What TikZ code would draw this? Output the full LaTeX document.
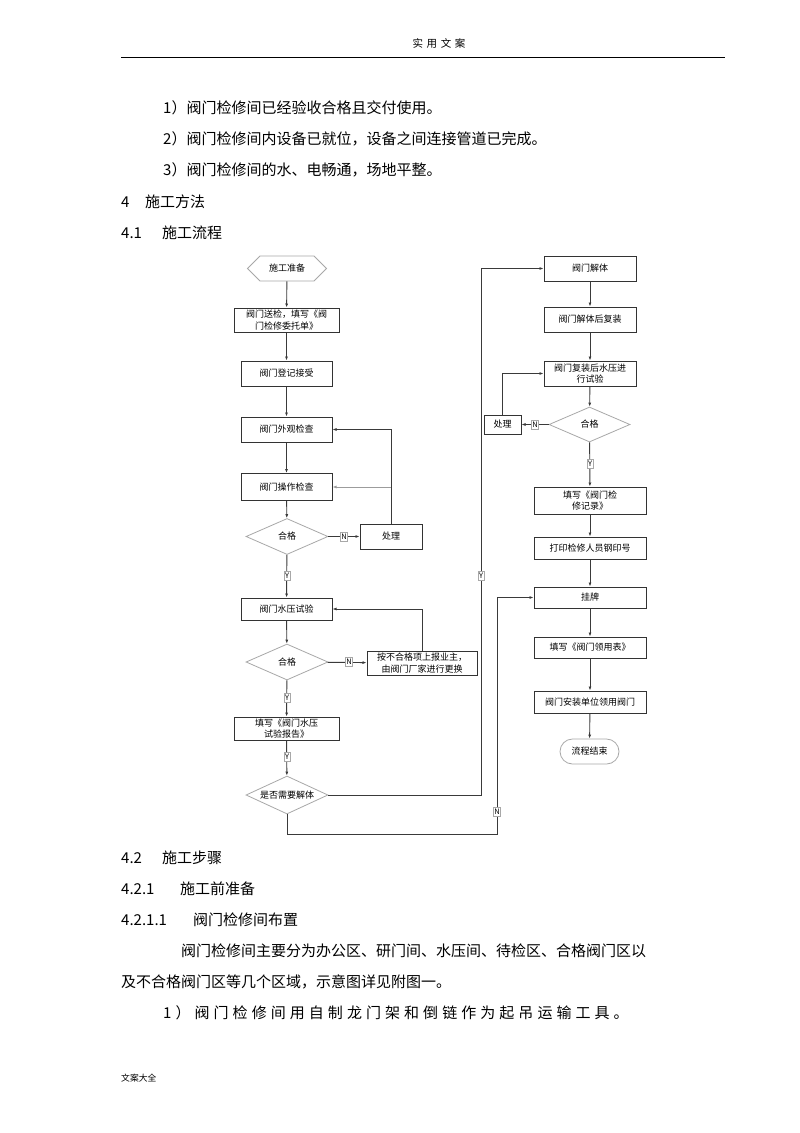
\documentclass[tikz,border=0pt]{standalone}
\usepackage{fontspec}
\setmainfont{Noto Sans CJK SC}
\newfontfamily\spacedfont[LetterSpace=27]{Noto Sans CJK SC}
\newfontfamily\headfont[LetterSpace=34]{Noto Sans CJK SC}
\usepackage{tikz}
\usetikzlibrary{
  arrows.meta,
  positioning,
  shapes.geometric,
  shapes.misc,
  shapes.symbols
}
\definecolor{linegray}{HTML}{3A3A3A}
\definecolor{boxgray}{HTML}{333333}
\definecolor{shapegray}{HTML}{A8A8A8}
\definecolor{faintgray}{HTML}{9C9C9C}
\newcommand{\fs}[2]{\fontsize{#1}{#2}\selectfont}
\newcommand{\nowidth}[1]{\makebox[0pt]{#1}}

\begin{document}
\begin{tikzpicture}[x=1pt, y=-1pt,
  box/.style={draw=boxgray, line width=1pt, font=\fs{9}{11.5}, align=center,
    inner sep=1pt, minimum width=91pt, minimum height=25pt},
  wbox/.style={box, minimum width=105pt, minimum height=24pt},
  rbox/.style={box, minimum width=112pt, minimum height=22pt},
  dia/.style={diamond, draw=shapegray, line width=0.8pt, font=\fs{9}{11},
    inner sep=0pt, minimum width=82pt, minimum height=36pt},
  term/.style={draw=shapegray, line width=0.8pt, font=\fs{9}{11}, inner sep=1pt},
  yn/.style={draw=shapegray, fill=white, line width=0.5pt, font=\fs{7.5}{8},
    inner sep=1pt, minimum height=9pt},
  arr/.style={draw=linegray, line width=0.9pt, -{Latex[length=4pt,width=3pt]}},
  txt/.style={font=\fs{15}{18}, anchor=west, inner sep=0pt},
]
  \fill[white] (0,0) rectangle (800,1133);
  \useasboundingbox (0,0) rectangle (800,1133);

  % Page head
  \node[font=\headfont\fs{10.5}{12}, inner sep=0pt] (head) at (439,43) {实用文案};
  \draw[line width=0.9pt] (121,57) -- (725,57);

  % Text above the chart
  \node[txt] (item1) at (163,108) {1）阀门检修间已经验收合格且交付使用。};
  \node[txt] (item2) at (163,139) {2）阀门检修间内设备已就位，设备之间连接管道已完成。};
  \node[txt] (item3) at (163,170) {3）阀门检修间的水、电畅通，场地平整。};
  \node[txt] (sec4) at (121,202) {\makebox[24pt][l]{4}施工方法};
  \node[txt] (sec41) at (121,233) {\makebox[41pt][l]{4.1}施工流程};

  % Left column
  \node[term, signal, signal to=east and west, minimum width=79pt, minimum height=25pt]
    (prep) at (287,268.5) {施工准备};
  \node[wbox] (send) at (286.5,320) {阀门送检，填写《阀\\门检修委托单》};
  \node[box] (reg) at (286.5,373.5) {阀门登记接受};
  \node[box] (look) at (286.5,429.5) {阀门外观检查};
  \node[box, minimum height=27pt] (oper) at (286.5,487) {阀门操作检查};
  \node[dia] (ok1) at (287,536.5) {\nowidth{合格}};
  \node[box, minimum width=62pt] (fix1) at (391,536.5) {处理};
  \node[box, minimum height=22pt] (press) at (286.5,609) {阀门水压试验};
  \node[dia] (ok2) at (287,662) {\nowidth{合格}};
  \node[box, minimum width=110pt, minimum height=24pt] (swap) at (422,663)
    {按不合格项上报业主，\\由阀门厂家进行更换};
  \node[wbox, minimum height=23pt] (report) at (286.5,728.5) {填写《阀门水压\\试验报告》};
  \node[dia, minimum height=38pt] (need) at (287,795) {\nowidth{是否需要解体}};

  % Right column
  \node[box, minimum width=92pt] (dis) at (590,268.5) {阀门解体};
  \node[box, minimum width=92pt] (reasm) at (590,319.5) {阀门解体后复装};
  \node[box, minimum width=92pt] (retest) at (590,373.5) {阀门复装后水压进\\行试验};
  \node[dia, minimum width=81pt, minimum height=35pt] (ok3) at (589.5,424.5) {\nowidth{合格}};
  \node[box, minimum width=37pt, minimum height=19pt] (fix2) at (502.5,424.5) {处理};
  \node[rbox, minimum height=27pt] (record) at (590,500.5) {填写《阀门检\\修记录》};
  \node[rbox] (stamp) at (590,548) {打印检修人员钢印号};
  \node[rbox, minimum height=21pt] (tag) at (590,597.5) {挂牌};
  \node[rbox, minimum height=21pt] (issue) at (590,647.5) {填写《阀门领用表》};
  \node[rbox] (take) at (590,702) {阀门安装单位领用阀门};
  \node[term, rounded rectangle, minimum width=61pt, minimum height=25pt]
    (end) at (589.5,751.5) {流程结束};

  \coordinate (yrail) at (481,795);
  \coordinate (nrail) at (497,834);

  % Connectors
  \draw[arr] (prep) -- (send);
  \draw[arr] (send) -- (reg);
  \draw[arr] (reg) -- (look);
  \draw[arr] (look) -- (oper);
  \draw[arr] (oper) -- (ok1);
  \draw[arr] (ok1) -- (fix1);
  \draw[arr] (fix1.north) |- (look.east);
  \draw[arr, draw=faintgray] (fix1.north |- oper.east) -- (oper.east);
  \draw[arr] (ok1) -- (press);
  \draw[arr] (press) -- (ok2);
  \draw[arr] (ok2) -- (swap);
  \draw[arr] (swap.north) |- (press.east);
  \draw[arr] (ok2) -- (report);
  \draw[arr] (report) -- (need);
  \draw[arr] (need.east) -- (yrail) |- (dis.west);
  \draw[arr] (need.south) |- (nrail) |- (tag.west);

  \draw[arr] (dis) -- (reasm);
  \draw[arr] (reasm) -- (retest);
  \draw[arr] (retest) -- (ok3);
  \draw[arr] (ok3) -- (fix2);
  \draw[arr] (fix2.north) |- (retest.west);
  \draw[arr] (ok3) -- (record);
  \draw[arr] (record) -- (stamp);
  \draw[arr] (stamp) -- (tag);
  \draw[arr] (tag) -- (issue);
  \draw[arr] (issue) -- (take);
  \draw[arr] (take) -- (end);

  % Y / N marks
  \node[yn] (n1) at (344,536.5) {N};
  \node[yn] (y1) at (287,576) {Y};
  \node[yn] (n2) at (349,662) {N};
  \node[yn] (y2) at (287,698) {Y};
  \node[yn] (y3) at (287,757) {Y};
  \node[yn] (y4) at (481,576) {Y};
  \node[yn] (n3) at (497,812) {N};
  \node[yn] (n4) at (535,424.5) {N};
  \node[yn] (y5) at (590,464) {Y};

  % Text below the chart
  \node[txt] (sec42) at (121,858) {\makebox[41pt][l]{4.2}施工步骤};
  \node[txt] (sec421) at (121,889) {\makebox[59pt][l]{4.2.1}施工前准备};
  \node[txt] (sec4211) at (121,920) {\makebox[72pt][l]{4.2.1.1}阀门检修间布置};
  \node[txt] (para1) at (181,951) {阀门检修间主要分为办公区、研门间、水压间、待检区、合格阀门区以};
  \node[txt] (para2) at (121,982) {及不合格阀门区等几个区域，示意图详见附图一。};
  \node[txt, font=\spacedfont\fs{15}{18}] (item4) at (163,1013)
    {1）阀门检修间用自制龙门架和倒链作为起吊运输工具。};
  \node[txt, font=\fs{8.8}{10}] (foot) at (121,1078) {文案大全};
\end{tikzpicture}
\end{document}
